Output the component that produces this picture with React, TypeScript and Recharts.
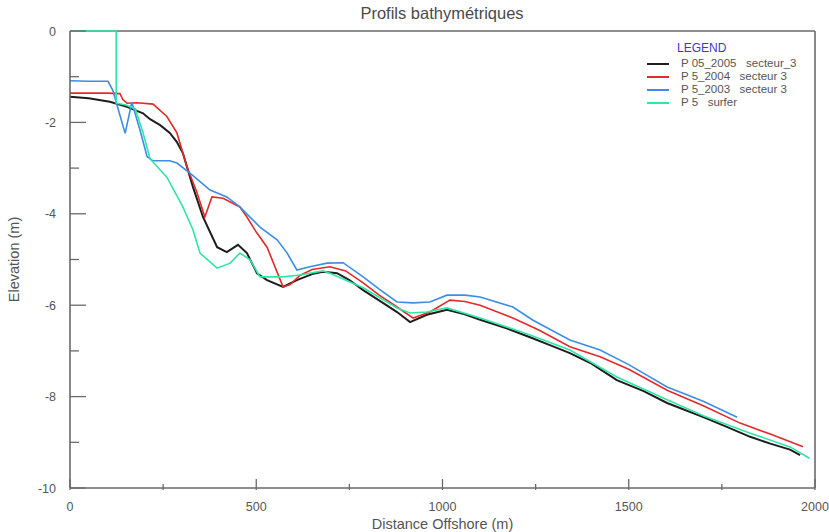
import React from 'react';
import { LineChart, Line, XAxis, YAxis, ReferenceLine } from 'recharts';

// profile distances (m) and elevations (m)
const blackDist = [0, 50, 107, 153, 196, 215, 242, 268, 287, 303, 330, 357, 395, 421, 451, 475, 502, 529, 572, 609, 650, 679, 717, 750, 787, 840, 878, 913, 958, 1012, 1060, 1101, 1170, 1235, 1290, 1342, 1400, 1468, 1540, 1603, 1700, 1760, 1826, 1880, 1933, 1960];
const blackElev = [-1.44, -1.47, -1.55, -1.66, -1.8, -1.93, -2.06, -2.23, -2.43, -2.67, -3.41, -4.07, -4.73, -4.84, -4.68, -4.86, -5.3, -5.45, -5.6, -5.45, -5.32, -5.27, -5.3, -5.45, -5.67, -5.95, -6.15, -6.37, -6.21, -6.1, -6.2, -6.32, -6.5, -6.7, -6.88, -7.05, -7.28, -7.64, -7.88, -8.14, -8.45, -8.65, -8.88, -9.03, -9.16, -9.28];

const redDist = [0, 50, 100, 134, 142, 153, 180, 223, 260, 287, 314, 341, 362, 381, 411, 456, 475, 500, 529, 572, 591, 617, 650, 698, 740, 787, 830, 878, 921, 966, 1020, 1060, 1101, 1189, 1260, 1342, 1423, 1500, 1603, 1700, 1799, 1880, 1968];
const redElev = [-1.36, -1.36, -1.36, -1.37, -1.5, -1.58, -1.57, -1.6, -1.87, -2.23, -2.97, -3.54, -4.07, -3.63, -3.66, -3.85, -4.07, -4.4, -4.73, -5.6, -5.55, -5.35, -5.22, -5.16, -5.25, -5.51, -5.78, -6.04, -6.28, -6.15, -5.89, -5.92, -6.0, -6.28, -6.55, -6.91, -7.13, -7.4, -7.86, -8.2, -8.58, -8.82, -9.1];

const blueDist = [0, 50, 102, 115, 148, 166, 188, 207, 223, 268, 287, 322, 376, 421, 456, 510, 556, 583, 609, 644, 690, 733, 787, 830, 878, 921, 966, 1012, 1060, 1101, 1189, 1243, 1342, 1423, 1500, 1603, 1700, 1791];
const blueElev = [-1.09, -1.1, -1.1, -1.3, -2.24, -1.56, -2.17, -2.75, -2.84, -2.84, -2.89, -3.11, -3.48, -3.63, -3.85, -4.29, -4.57, -4.86, -5.23, -5.16, -5.08, -5.07, -5.38, -5.65, -5.93, -5.95, -5.93, -5.78, -5.78, -5.82, -6.04, -6.33, -6.76, -6.98, -7.3, -7.79, -8.1, -8.45];

const greenDist = [0, 60, 124, 124, 150, 175, 195, 215, 260, 303, 330, 349, 395, 430, 456, 483, 510, 572, 617, 679, 698, 787, 878, 913, 958, 1012, 1101, 1235, 1342, 1468, 1603, 1700, 1826, 1933, 1985];
const greenElev = [0, 0, 0, -1.58, -1.62, -1.7, -2.2, -2.8, -3.2, -3.85, -4.35, -4.86, -5.19, -5.08, -4.86, -5.0, -5.38, -5.38, -5.34, -5.25, -5.3, -5.62, -6.06, -6.17, -6.15, -6.06, -6.28, -6.65, -6.98, -7.57, -8.07, -8.42, -8.8, -9.1, -9.35];

const xTicks = [0, 250, 500, 750, 1000, 1250, 1500, 1750, 2000];
const yTicks = [0, -1, -2, -3, -4, -5, -6, -7, -8, -9, -10];

const seriesNames = ['P 05_2005   secteur_3', 'P 5_2004   secteur 3', 'P 5_2003   secteur 3', 'P 5   surfer'];
const seriesColors = ['#1e1e1e', '#e42a2a', '#3a8fe4', '#2fe6a4'];

const toPoints = (dist: number[], elev: number[]) => dist.map((d, i) => ({ d, e: elev[i] }));

const profiles = [
    toPoints(blackDist, blackElev),
    toPoints(redDist, redElev),
    toPoints(blueDist, blueElev),
    toPoints(greenDist, greenElev),
];

const FONT = 'Liberation Sans, Arial, sans-serif';
const AXIS = '#6a6a6a';

const XTick = ({ x, y, payload }: any) => {
    const major = payload.value % 500 === 0;
    return (
        <g>
            <line x1={x} x2={x} y1={y - (major ? 9 : 4)} y2={y + 2} stroke={AXIS} strokeWidth={1.3} />
            {major && (
                <text x={x} y={y + 23} textAnchor="middle" fill="#555" fontSize={12.5} fontFamily={FONT}>
                    {payload.value}
                </text>
            )}
        </g>
    );
};

const YTick = ({ x, y, payload }: any) => {
    const major = payload.value % 2 === 0;
    return (
        <g>
            <line x1={x} x2={x + (major ? 16 : 9)} y1={y} y2={y} stroke={AXIS} strokeWidth={1.3} />
            {major && (
                <text x={x - 14} y={y + 4.5} textAnchor="end" fill="#555" fontSize={12.5} fontFamily={FONT}>
                    {payload.value}
                </text>
            )}
        </g>
    );
};

// legend drawn as an overlay so the plot keeps its full width
const ChartLegend = () => (
    <div style={{ position: 'absolute', left: 647, top: 42, fontFamily: FONT, fontSize: 11.5, color: '#555', lineHeight: '13px' }}>
        <div style={{ color: '#3a3ad0', paddingLeft: 30, fontSize: 12, marginBottom: 2 }}>LEGEND</div>
        {seriesNames.map((name, i) => (
            <div key={name} style={{ display: 'flex', alignItems: 'center', whiteSpace: 'pre' }}>
                <span style={{ display: 'inline-block', width: 22, height: 2, background: seriesColors[i], marginRight: 12 }} />
                {name}
            </div>
        ))}
    </div>
);

export default function App() {
    return (
        <div style={{ position: 'absolute', left: 0, top: 0, width: 829, height: 532, background: '#fff' }}>
            <div style={{ position: 'absolute', left: 0, width: 884, top: 4, textAlign: 'center', fontFamily: FONT, fontSize: 16.5, color: '#4a4a4a' }}>
                Profils bathymétriques
            </div>
            <LineChart width={829} height={532} margin={{ top: 31, right: 14, bottom: 0, left: 0 }}>
                <XAxis
                    type="number"
                    dataKey="d"
                    domain={[0, 2000]}
                    ticks={xTicks}
                    interval={0}
                    height={44}
                    tickSize={0}
                    tickMargin={0}
                    tickLine={false}
                    tick={<XTick />}
                    axisLine={{ stroke: AXIS, strokeWidth: 1.6 }}
                    allowDuplicatedCategory={false}
                    label={{ value: 'Distance Offshore (m)', position: 'insideBottom', offset: 3, fill: '#555', fontSize: 14.5, fontFamily: FONT }}
                />
                <YAxis
                    type="number"
                    dataKey="e"
                    domain={[-10, 0]}
                    ticks={yTicks}
                    interval={0}
                    width={70}
                    tickSize={0}
                    tickMargin={0}
                    tickLine={false}
                    tick={<YTick />}
                    axisLine={{ stroke: AXIS, strokeWidth: 1.6 }}
                    label={{ value: 'Elevation (m)', angle: -90, position: 'insideLeft', offset: 14, fill: '#555', fontSize: 14.5, fontFamily: FONT, style: { textAnchor: 'middle' } }}
                />
                <ReferenceLine y={0} stroke={AXIS} strokeWidth={1.6} />
                <ReferenceLine x={2000} stroke={AXIS} strokeWidth={1.6} />
                {profiles.map((pts, i) => (
                    <Line
                        key={seriesNames[i]}
                        data={pts}
                        dataKey="e"
                        name={seriesNames[i]}
                        type="linear"
                        stroke={seriesColors[i]}
                        strokeWidth={i === 0 ? 2 : 1.6}
                        dot={false}
                        isAnimationActive={false}
                    />
                ))}
            </LineChart>
            <ChartLegend />
        </div>
    );
}
